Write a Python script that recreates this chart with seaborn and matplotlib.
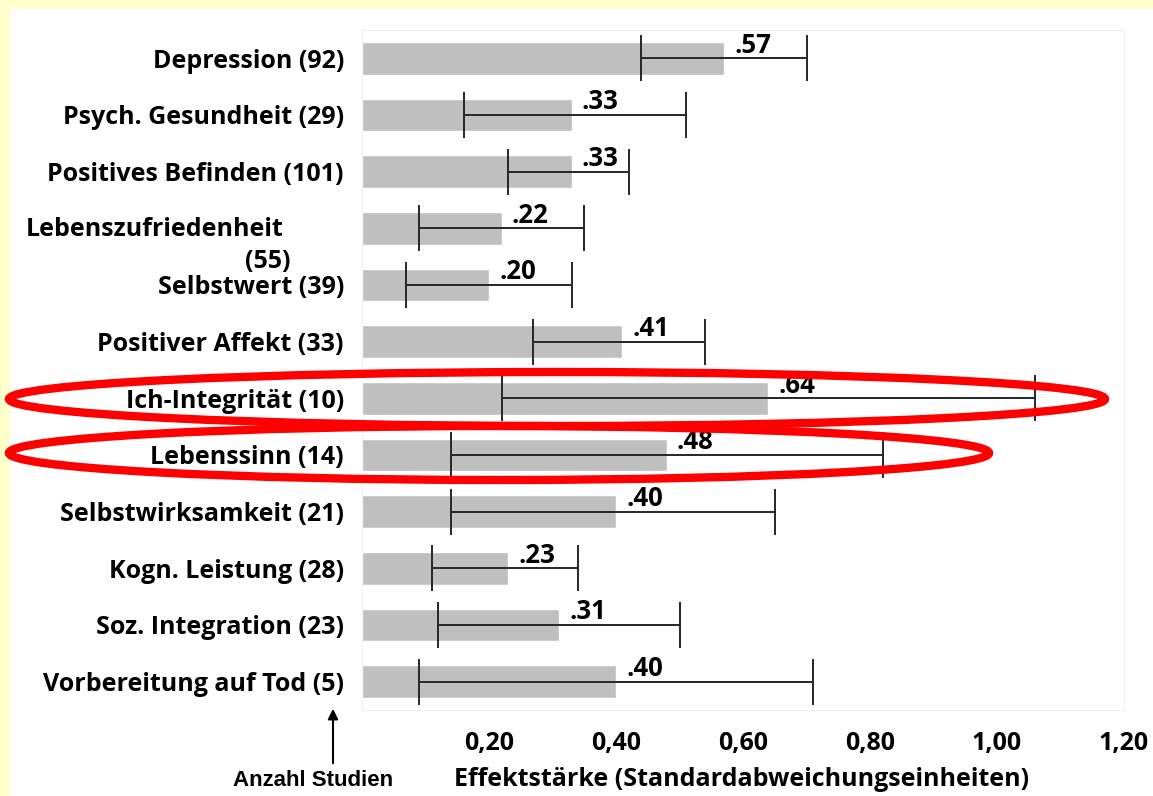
import matplotlib
matplotlib.use("Agg")
import matplotlib.pyplot as plt
from matplotlib.patches import Ellipse, Rectangle, FancyArrowPatch
import seaborn as sns
import pandas as pd

# Outcome domains with number of studies
labels = [
    "Depression (92)", "Psych. Gesundheit (29)", "Positives Befinden (101)",
    "Lebenszufriedenheit (55)", "Selbstwert (39)", "Positiver Affekt (33)",
    "Ich-Integrität (10)", "Lebenssinn (14)", "Selbstwirksamkeit (21)",
    "Kogn. Leistung (28)", "Soz. Integration (23)", "Vorbereitung auf Tod (5)",
]
# Mean effect sizes
effects = [0.57, 0.33, 0.33, 0.22, 0.20, 0.41, 0.64, 0.48, 0.40, 0.23, 0.31, 0.40]
# Confidence interval bounds
ci_low = [0.44, 0.16, 0.23, 0.09, 0.07, 0.27, 0.22, 0.14, 0.14, 0.11, 0.12, 0.09]
ci_high = [0.70, 0.51, 0.42, 0.35, 0.33, 0.54, 1.06, 0.82, 0.65, 0.34, 0.50, 0.71]
x_ticks = [0.2, 0.4, 0.6, 0.8, 1.0, 1.2]
x_tick_labels = ["0,20", "0,40", "0,60", "0,80", "1,00", "1,20"]

FONT = ["Open Sans", "DejaVu Sans"]
FS = 18.0

sns.set_theme(style="white")
plt.rcParams["font.family"] = FONT
plt.rcParams["font.weight"] = "bold"
plt.rcParams["text.color"] = "black"
plt.rcParams["xtick.color"] = "black"
plt.rcParams["ytick.color"] = "black"

W, H = 1153, 796
fig = plt.figure(figsize=(W / 100, H / 100), dpi=100, facecolor="#FFFFCC")
# white slide panel
fig.patches.append(Rectangle((10 / W, 0), 1 - 10 / W, 1 - 9 / H,
                             transform=fig.transFigure, facecolor="white",
                             edgecolor="none", zorder=-5))

ax = fig.add_axes([362 / W, 86 / H, (1124 - 362) / W, (710 - 30) / H])
ax.set_zorder(2)
ax.set_facecolor("white")

df = pd.DataFrame({"label": labels, "effect": effects})
sns.barplot(data=df, x="effect", y="label", order=labels, color="#BFBFBF",
            saturation=1, width=0.58, ax=ax, errorbar=None)

ypos = list(range(len(labels)))
mid = [(lo + hi) / 2 for lo, hi in zip(ci_low, ci_high)]
half = [(hi - lo) / 2 for lo, hi in zip(ci_low, ci_high)]
ax.errorbar(mid, ypos, xerr=half, fmt="none", ecolor="#262626",
            elinewidth=1.4, capsize=16.5, capthick=1.4, zorder=3)

for y, v in zip(ypos, effects):
    ax.text(v + 0.016, y - 0.10, "." + f"{v:.2f}".split(".")[1], ha="left",
            va="baseline", fontsize=18.5, fontweight="bold", color="black",
            zorder=4)

ax.set_xlim(0, 1.2)
ax.set_ylim(len(labels) - 0.5, -0.5)
ax.set_xticks(x_ticks)
ax.set_xticklabels(x_tick_labels, fontsize=18, fontweight="bold")
ax.tick_params(axis="x", length=0, pad=15)
ax.tick_params(axis="y", length=0, pad=13)
ticklabels = [("" if l.startswith("Lebenszufriedenheit") else l) for l in labels]
ax.set_yticklabels(ticklabels, fontsize=FS, fontweight="bold")
ax.set_xlabel("")
ax.set_ylabel("")
for s in ax.spines.values():
    s.set_color("#F0F0F0")
    s.set_linewidth(0.8)

# two-line label for the wrapped category
fig.text(283 / W, 1 - 229 / H, "Lebenszufriedenheit", ha="right", va="center",
         fontsize=FS, fontweight="bold")
fig.text(290 / W, 1 - 261 / H, "(55)", ha="right", va="center",
         fontsize=FS, fontweight="bold")

fig.text(742 / W, 1 - 780 / H, "Effektstärke (Standardabweichungseinheiten)",
         ha="center", va="center", fontsize=FS, fontweight="bold")
fig.text(313 / W, 1 - 781 / H, "Anzahl Studien", ha="center", va="center",
         fontsize=16, fontweight="bold", family=["Liberation Sans", "DejaVu Sans"])
fig.add_artist(FancyArrowPatch(
    (333 / W, 1 - 766 / H), (333 / W, 1 - 706 / H), transform=fig.transFigure,
    arrowstyle="-|>,head_length=6,head_width=3", color="black", lw=1.5))

# highlight rings
for cx, cy, w, h in [(557, 399, 1096, 54), (499, 453, 980, 54)]:
    e = Ellipse((cx / W, 1 - cy / H), w / W, h / H, transform=fig.transFigure,
                fill=False, edgecolor="#FF0000", lw=6)
    e.set_zorder(10)
    fig.add_artist(e)

fig.savefig("out.png", dpi=100, facecolor=fig.get_facecolor())
